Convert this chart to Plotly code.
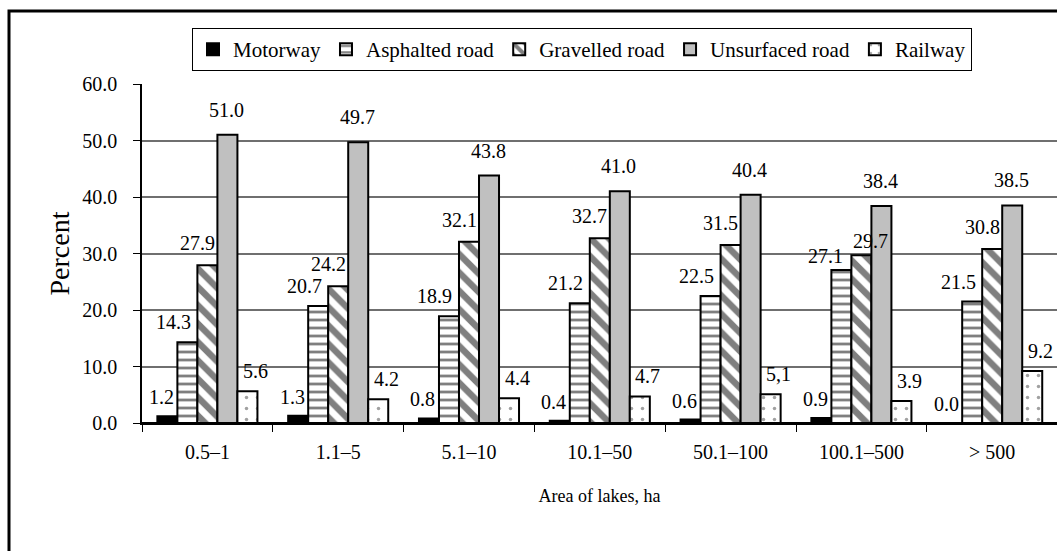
import plotly.graph_objects as go

# Lake size classes and share of lakes near each type of transport route
categories = ["0.5–1", "1.1–5", "5.1–10", "10.1–50", "50.1–100", "100.1–500", "> 500"]
motorway = [1.2, 1.3, 0.8, 0.4, 0.6, 0.9, 0.0]
asphalted = [14.3, 20.7, 18.9, 21.2, 22.5, 27.1, 21.5]
gravelled = [27.9, 24.2, 32.1, 32.7, 31.5, 29.7, 30.8]
unsurfaced = [51.0, 49.7, 43.8, 41.0, 40.4, 38.4, 38.5]
railway = [5.6, 4.2, 4.4, 4.7, 5.1, 3.9, 9.2]
railway_labels = ["5.6", "4.2", "4.4", "4.7", "5,1", "3.9", "9.2"]

y_ticks = [0, 10, 20, 30, 40, 50, 60]

FONT = "Liberation Serif"
W, H = 1057, 551
L, R, T, B = 142, 0, 84, 128
plot_w = W - L - R
plot_h = H - T - B
cat_px = 130.8          # pixel width of one category slot
BARGAP = 0.235
bar_px = cat_px * (1 - BARGAP) / 5

fig = go.Figure()

# (name, values, fill, pattern, label texts, label x-nudge, label y-nudge)
series = [
    ("Motorway", motorway, "black", None, None, -6, 19),
    ("Asphalted road", asphalted, "white",
     dict(shape="-", fgcolor="black", bgcolor="white", size=8, solidity=0.35, fillmode="overlay"),
     None, -14, 20),
    ("Gravelled road", gravelled, "white",
     dict(shape="\\", fgcolor="black", bgcolor="white", size=13, solidity=0.5, fillmode="overlay"),
     None, -10, 22),
    ("Unsurfaced road", unsurfaced, "#c0c0c0", None, None, -1, 25),
    ("Railway", railway, "white",
     dict(shape=".", fgcolor="#444444", bgcolor="white", size=11, solidity=0.08, fillmode="overlay"),
     railway_labels, 8, 20),
]

# individual label nudges where neighbouring labels would collide
label_nudge = {("Gravelled road", "100.1–500"): (19, -8),
               ("Asphalted road", "100.1–500"): (-2, -6)}

annotations = []
for i, (name, values, color, pattern, labels, dx, dy) in enumerate(series):
    marker = dict(color=color, line=dict(color="black", width=2))
    if pattern:
        marker["pattern"] = pattern
    fig.add_trace(go.Bar(name=name, x=categories, y=values, marker=marker))
    texts = labels if labels is not None else [f"{v:.1f}" for v in values]
    # value labels sit above each bar, drawn on top of all bars
    for cat, v, t in zip(categories, values, texts):
        ndx, ndy = label_nudge.get((name, cat), (0, 0))
        annotations.append(dict(
            x=cat, y=v, xref="x", yref="y", text=t, showarrow=False,
            xanchor="center", yanchor="middle",
            xshift=(i - 2) * bar_px + dx + ndx, yshift=dy + ndy,
            font=dict(family=FONT, size=20, color="black"),
        ))

x_hi = -0.5 + plot_w / cat_px

# outer frame around the figure
fig.add_shape(type="rect", xref="paper", yref="paper",
              x0=(9 - L) / plot_w, x1=1.2,
              y0=-0.6, y1=(H - B - 11) / plot_h,
              line=dict(color="black", width=3), fillcolor="rgba(0,0,0,0)", layer="below")

fig.update_layout(
    width=W, height=H,
    margin=dict(l=L, r=R, t=T, b=B, pad=0),
    paper_bgcolor="white", plot_bgcolor="white",
    font=dict(family=FONT, color="black"),
    barmode="group", bargap=BARGAP, bargroupgap=0.0,
    showlegend=True,
    legend=dict(
        orientation="h", x=(582 - L) / plot_w, xanchor="center",
        y=1 + (T - 28) / plot_h, yanchor="top",
        bordercolor="black", borderwidth=1, bgcolor="white",
        font=dict(family=FONT, size=21), itemwidth=30,
        tracegroupgap=0,
    ),
    annotations=annotations,
)

fig.update_xaxes(
    range=[-0.5, x_hi],
    showline=True, linecolor="black", linewidth=1.5,
    ticks="outside", ticklen=7, tickcolor="black", tickson="boundaries",
    ticklabelstandoff=10,
    tickfont=dict(family=FONT, size=20),
    title=dict(text="Area of lakes, ha", font=dict(family=FONT, size=18), standoff=28),
    showgrid=False,
)

fig.update_yaxes(
    range=[0, 60], tickvals=y_ticks, tickformat=".1f",
    showline=True, linecolor="black", linewidth=1.5,
    ticks="outside", ticklen=7, tickcolor="black",
    ticklabelstandoff=12,
    tickfont=dict(family=FONT, size=20),
    showgrid=True, gridcolor="#6f6f6f", gridwidth=1.5,
    zeroline=True, zerolinecolor="black", zerolinewidth=1.5,
    title=dict(text="Percent", font=dict(family=FONT, size=28), standoff=4),
)

fig.write_html("out.html")
